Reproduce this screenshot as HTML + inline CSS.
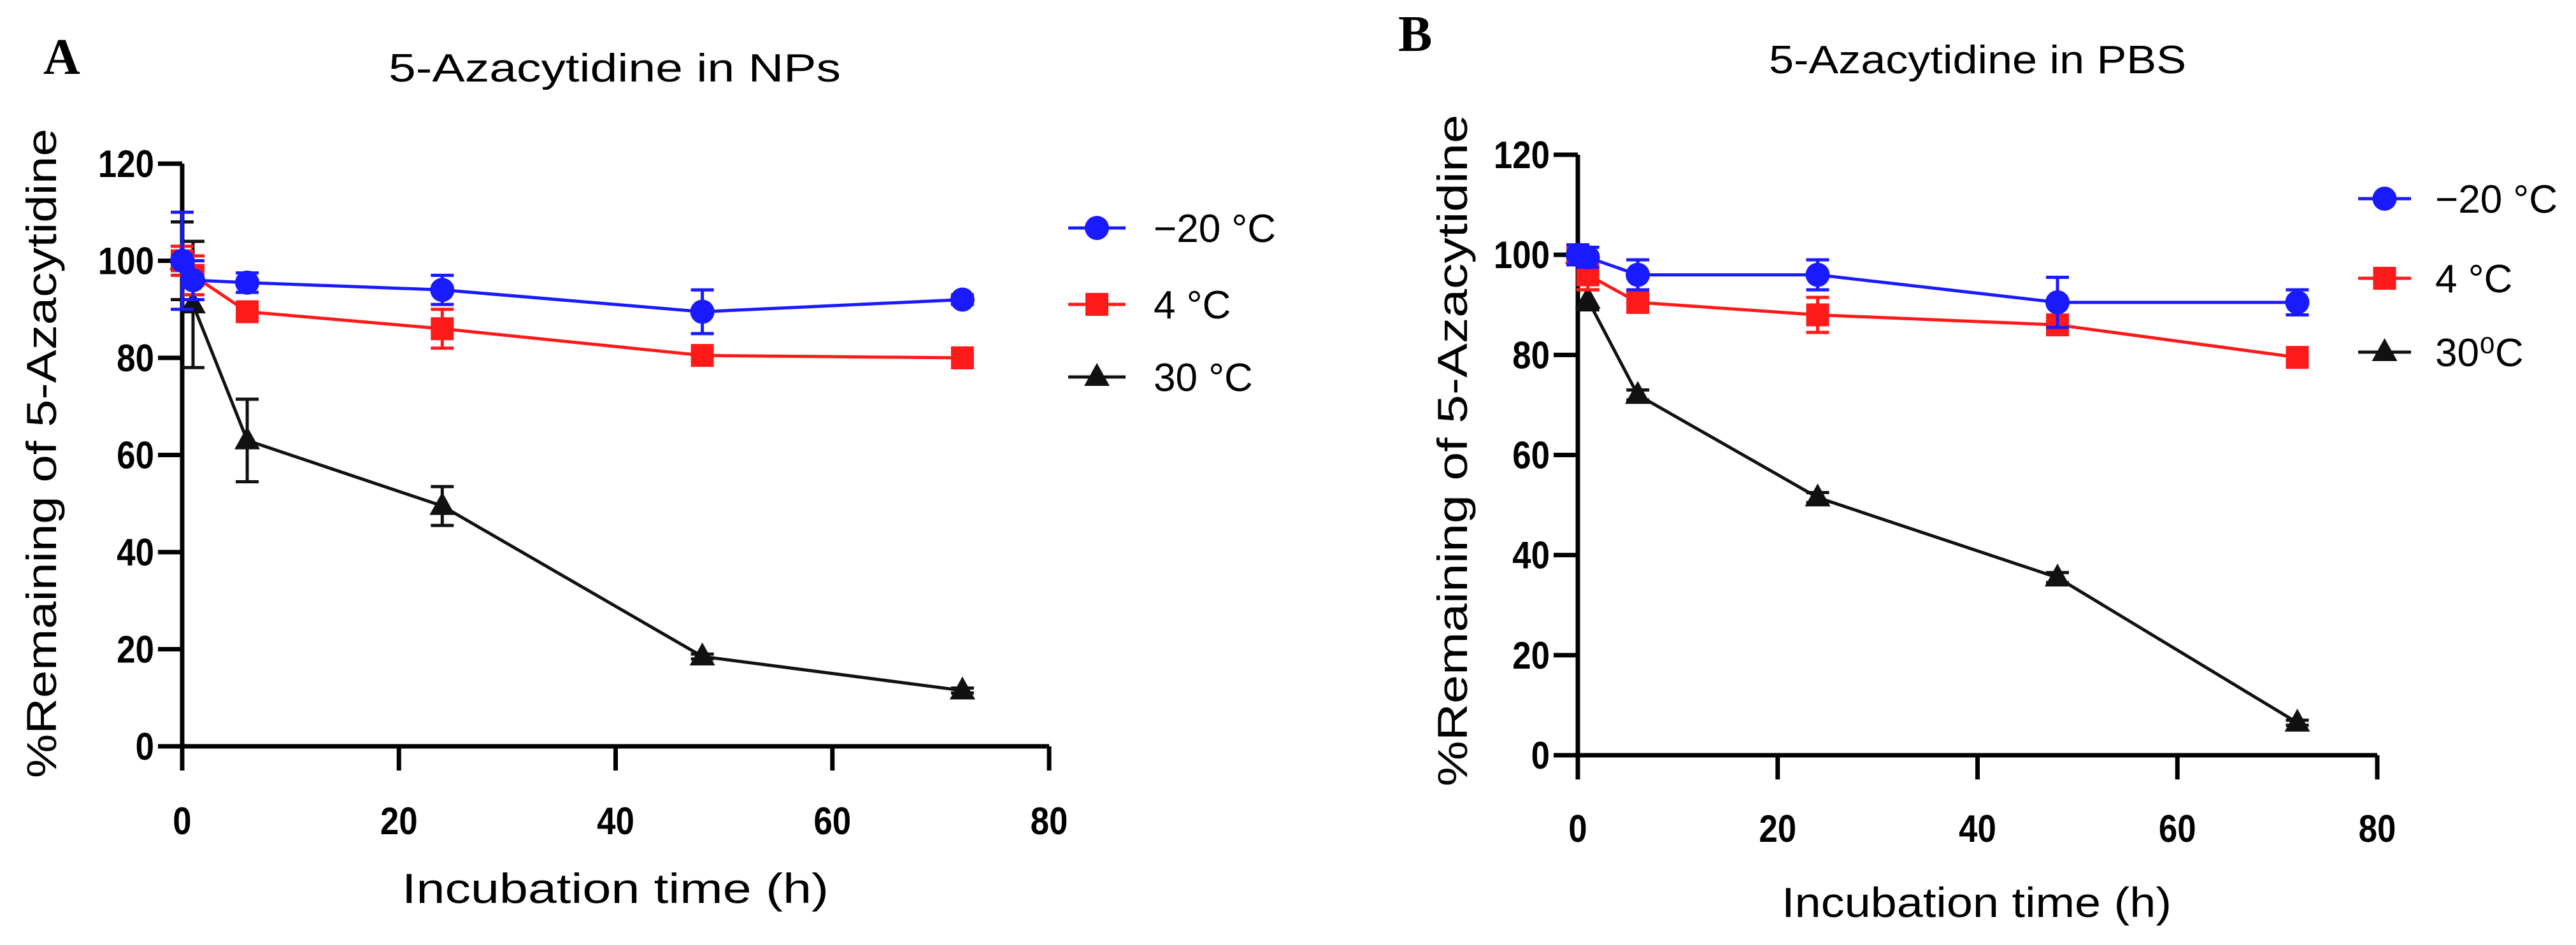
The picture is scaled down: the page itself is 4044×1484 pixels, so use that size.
<!DOCTYPE html>
<html><head><meta charset="utf-8"><style>
html,body{margin:0;padding:0;background:#fff;}
svg{display:block;}
</style></head><body>
<svg id="fig" width="4044" height="1484" viewBox="0 0 4044 1484" xmlns="http://www.w3.org/2000/svg"></svg>
<script>
const times = [0, 1, 6, 24, 48, 72];
const xTicks = [0, 20, 40, 60, 80];
const yTicks = [0, 20, 40, 60, 80, 100, 120];
const seriesNames = ["−20 °C", "4 °C", "30 °C"];
const seriesNamesB = ["−20 °C", "4 °C", "30\u2070C"];
const aBlue = [100, 96, 95.5, 94, 89.5, 92];
const aBlueErr = [10, 4, 2, 3, 4.5, 1];
const aRed = [100, 97, 89.5, 86, 80.5, 80];
const aRedErr = [3, 4, 1, 4, 1, 1];
const aBlack = [100, 91, 63, 49.5, 18.5, 11.5];
const aBlackErr = [8, 13, 8.5, 4, 0.5, 0.5];
const bBlue = [100, 99.5, 96, 96, 90.5, 90.5];
const bBlueErr = [2, 2, 3, 3, 5, 2.5];
const bRed = [100, 96, 90.5, 88, 86, 79.5];
const bRedErr = [2, 3, 2, 3.5, 1.5, 1];
const bBlack = [100, 91, 72, 51.5, 35.5, 6.5];
const bBlackErr = [1, 2, 1, 1, 1, 0.5];

const NS = "http://www.w3.org/2000/svg";
const svg = document.getElementById('fig');
function mk(tag, attrs, parent, txt){
  const e = document.createElementNS(NS, tag);
  for (const k in attrs) e.setAttribute(k, attrs[k]);
  if (txt !== undefined) e.textContent = txt;
  (parent || svg).appendChild(e);
  return e;
}
const colors = ["#1a1aff", "#ff1a1a", "#111"];
const markers = ["circle", "square", "triangle"];

function drawMarker(g, type, cx, cy, color){
  let m;
  if (type === "circle") m = mk('circle', {cx, cy, r: 19, fill: color}, g);
  else if (type === "square") m = mk('rect', {x: cx-18, y: cy-18, width: 36, height: 36, fill: color}, g);
  else m = mk('polygon', {points: `${cx},${cy-22} ${cx+20},${cy+14} ${cx-20},${cy+14}`, fill: color}, g);
  return m;
}

function panel(p){
  const g = mk('g', {});
  
  
  const X = v => p.x0 + (v / 80) * (p.x80 - p.x0);
  const Y = v => p.y0 - (v / 120) * (p.y0 - p.y120);
  const letter = mk('text', {x: p.letterX, y: p.letterY, 'font-family': 'Liberation Serif, serif', 'font-weight': 'bold', 'font-size': 80, fill: '#000'}, g, p.id);
  
  
  const title = mk('text', {x: p.titleX, y: p.titleY, 'font-family': 'Liberation Sans, sans-serif', 'font-size': 62, fill: '#000', textLength: p.titleW, lengthAdjust: 'spacingAndGlyphs'}, g, p.title);
  
  
  const ax = mk('g', {stroke: '#000', 'stroke-width': 7, fill: 'none'}, g);
  
  
  mk('line', {x1: p.x0, y1: Y(120), x2: p.x0, y2: p.y0}, ax);
  mk('line', {x1: p.x0, y1: p.y0, x2: X(80), y2: p.y0}, ax);
  yTicks.forEach(v => {
    mk('line', {x1: p.x0 - 38, y1: Y(v), x2: p.x0, y2: Y(v)}, ax);
    const t = mk('text', {x: p.x0 - 44, y: Y(v) + 21, 'text-anchor': 'end', 'font-family': 'Liberation Sans, sans-serif', 'font-weight': 'bold', 'font-size': 60, fill: '#000', stroke: 'none', transform: `translate(${p.x0-44},0) scale(0.88,1) translate(${-(p.x0-44)},0)`}, g, String(v));
    
    
  });
  xTicks.forEach(v => {
    mk('line', {x1: X(v), y1: p.y0, x2: X(v), y2: p.y0 + 38}, ax);
    const t = mk('text', {x: X(v), y: p.xLabY, 'text-anchor': 'middle', 'font-family': 'Liberation Sans, sans-serif', 'font-weight': 'bold', 'font-size': 60, fill: '#000', transform: `translate(${X(v)},0) scale(0.88,1) translate(${-X(v)},0)`}, g, String(v));
    
    
  });
  const xt = mk('text', {x: p.xTitleX, y: p.xTitleY, 'font-family': 'Liberation Sans, sans-serif', 'font-size': 66, fill: '#000', textLength: p.xTitleW, lengthAdjust: 'spacingAndGlyphs'}, g, 'Incubation time (h)');
  
  
  const yt = mk('text', {x: 0, y: 0, 'font-family': 'Liberation Sans, sans-serif', 'font-size': 66, fill: '#000', textLength: p.yTitleLen, lengthAdjust: 'spacingAndGlyphs', transform: `translate(${p.yTitleX},${p.yTitleBottom}) rotate(-90)`}, g, '%Remaining of 5-Azacytidine');
  
  
  [2, 1, 0].forEach(si => {
    const vals = p.series[si], errs = p.errs[si], col = colors[si];
    const sg = mk('g', {}, g);
    
    
    const start = (si === 2) ? 1 : 0;
    const pts = [];
    for (let i = start; i < times.length; i++) pts.push(X(times[i]) + ',' + Y(vals[i]));
    mk('polyline', {points: pts.join(' '), fill: 'none', stroke: col, 'stroke-width': 5}, sg);
    for (let i = 0; i < times.length; i++) {
      const cx = X(times[i]), hi = Y(vals[i] + errs[i]), lo = Y(vals[i] - errs[i]);
      const eb = mk('g', {stroke: col, 'stroke-width': 5}, sg);
      
      
      mk('line', {x1: cx, y1: hi, x2: cx, y2: lo}, eb);
      mk('line', {x1: cx - 18, y1: hi, x2: cx + 18, y2: hi}, eb);
      mk('line', {x1: cx - 18, y1: lo, x2: cx + 18, y2: lo}, eb);
      const m = drawMarker(sg, markers[si], cx, Y(vals[i]), col);
      
      
    }
  });
  p.legY.forEach((ly, si) => {
    const lg = mk('g', {}, g);
    
    
    mk('line', {x1: p.legX1, y1: ly, x2: p.legX2, y2: ly, stroke: colors[si], 'stroke-width': 5}, lg);
    drawMarker(lg, markers[si], (p.legX1 + p.legX2) / 2, ly, colors[si]);
    mk('text', {x: p.legTextX, y: ly + 22, 'font-family': 'Liberation Sans, sans-serif', 'font-size': 62, fill: '#000'}, lg, p.names[si]);
  });
}

panel({id: 'A', x0: 286, x80: 1647, y0: 1172, y120: 257,
  letterX: 68, letterY: 116, title: '5-Azacytidine in NPs', titleX: 610, titleY: 128, titleW: 710,
  xLabY: 1310, xTitleX: 631, xTitleY: 1418, xTitleW: 670,
  yTitleX: 88, yTitleBottom: 1222, yTitleLen: 1020,
  series: [aBlue, aRed, aBlack], errs: [aBlueErr, aRedErr, aBlackErr],
  legX1: 1677, legX2: 1767, legY: [358, 478, 592], legTextX: 1811, names: seriesNames});
panel({id: 'B', x0: 2477, x80: 3732, y0: 1186, y120: 243,
  letterX: 2195, letterY: 80, title: '5-Azacytidine in PBS', titleX: 2777, titleY: 115, titleW: 655,
  xLabY: 1322, xTitleX: 2797, xTitleY: 1440, xTitleW: 612,
  yTitleX: 2303, yTitleBottom: 1235, yTitleLen: 1055,
  series: [bBlue, bRed, bBlack], errs: [bBlueErr, bRedErr, bBlackErr],
  legX1: 3702, legX2: 3785, legY: [312, 437, 553], legTextX: 3823, names: seriesNamesB});
</script>
</body></html>
